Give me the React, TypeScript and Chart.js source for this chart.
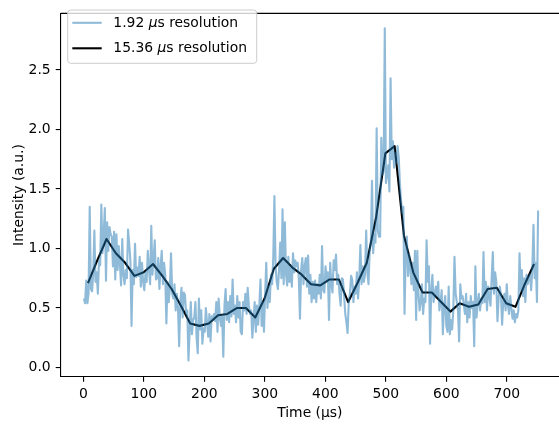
import React, { useEffect, useRef } from 'react';
import { Chart, registerables } from 'chart.js';

Chart.register(...registerables);

// sampling resolutions (µs)
const FINE_RES = 1.92;
const COARSE_RES = 15.36;

// 1.92 µs resolution intensity (a.u.)
const fineIntensity: number[] = [
  0.58, 0.54, 0.73, 0.54, 0.62, 1.35, 0.66, 0.64,
  0.78, 1.15, 0.72, 0.80, 0.62, 0.90, 0.86, 1.37,
  0.96, 1.12, 1.34, 0.73, 1.22, 0.98, 1.18, 1.12,
  1.10, 0.85, 1.14, 0.74, 1.12, 0.82, 1.02, 0.87,
  0.69, 1.08, 0.78, 0.70, 0.82, 0.75, 1.16, 1.04,
  0.90, 0.35, 0.82, 0.70, 1.04, 0.76, 0.84, 0.77,
  0.93, 0.68, 0.88, 0.72, 0.65, 0.80, 0.72, 0.98,
  0.82, 0.70, 1.19, 0.78, 0.92, 1.07, 0.74, 0.75,
  0.92, 0.66, 0.85, 0.98, 0.70, 0.88, 0.78, 0.37,
  0.72, 0.55, 0.66, 0.96, 0.62, 0.58, 0.70, 0.48,
  0.62, 0.50, 0.18, 0.55, 0.67, 0.42, 0.63, 0.61,
  0.45, 0.48, 0.06, 0.30, 0.55, 0.28, 0.40, 0.42,
  0.55, 0.25, 0.12, 0.58, 0.32, 0.48, 0.20, 0.33,
  0.30, 0.50, 0.38, 0.26, 0.45, 0.22, 0.43, 0.40,
  0.45, 0.39, 0.55, 0.30, 0.58, 0.42, 0.35, 0.44,
  0.09, 0.52, 0.66, 0.40, 0.55, 0.38, 0.60, 0.43,
  0.74, 0.45, 0.52, 0.38, 0.60, 0.42, 0.55, 0.30,
  0.28, 0.55, 0.48, 0.62, 0.45, 0.67, 0.52, 0.45,
  0.48, 0.25, 0.40, 0.55, 0.30, 0.52, 0.36, 0.52,
  0.74, 0.35, 0.55, 0.30, 0.62, 0.88, 0.50, 0.68,
  0.55, 0.78, 0.70, 0.92, 1.44, 0.85, 0.72, 0.66,
  0.82, 1.05, 0.75, 1.33, 0.70, 1.22, 0.78, 0.69,
  0.93, 0.72, 0.85, 0.68, 0.96, 0.80, 0.90, 0.85,
  0.88, 0.75, 0.41, 0.82, 0.92, 0.70, 0.85, 0.92,
  0.68, 0.94, 0.62, 0.78, 0.55, 0.72, 0.58, 0.73,
  0.55, 0.70, 0.62, 0.78, 0.58, 1.02, 0.65, 0.63,
  0.85, 0.72, 0.80, 0.40, 0.88, 0.70, 0.63, 0.90,
  0.82, 0.95, 0.70, 0.78, 0.62, 0.52, 0.75, 0.74,
  0.60, 0.45, 0.38, 0.29, 0.55, 0.62, 0.77, 0.74,
  0.55, 0.68, 0.62, 0.80, 0.58, 0.74, 1.03, 0.70,
  0.85, 0.72, 0.78, 1.15, 0.80, 0.70, 0.98, 1.04,
  1.57, 0.96, 1.12, 1.05, 2.01, 1.15, 1.10, 1.10,
  1.93, 1.62, 1.65, 2.85, 1.55, 1.62, 1.70, 1.48,
  2.43, 1.75, 1.90, 1.68, 1.80, 1.72, 1.86, 1.77,
  1.55, 1.40, 1.30, 1.35, 0.45, 0.95, 1.10, 0.77,
  0.95, 0.82, 0.70, 0.88, 0.65, 0.98, 0.40, 0.98,
  0.62, 0.48, 0.55, 0.70, 0.45, 0.58, 0.55, 1.07,
  0.72, 0.85, 0.20, 0.65, 0.78, 0.55, 0.62, 0.68,
  0.60, 0.72, 0.48, 0.55, 0.65, 0.28, 0.52, 0.60,
  0.35, 0.30, 0.68, 0.28, 0.40, 0.32, 0.48, 0.93,
  0.62, 0.55, 0.48, 0.22, 0.70, 0.58, 0.60, 0.53,
  0.45, 0.62, 0.38, 0.55, 0.42, 0.60, 0.50, 0.55,
  0.18, 0.85, 0.42, 0.55, 0.62, 0.48, 0.58, 0.54,
  0.97, 0.55, 0.72, 0.48, 0.68, 0.60, 0.52, 0.75,
  0.97, 0.62, 0.80, 0.72, 0.39, 0.58, 0.68, 0.62,
  0.36, 0.55, 0.62, 0.48, 0.70, 0.52, 0.45, 0.60,
  0.50, 0.41, 0.48, 0.38, 0.45, 0.42, 0.48, 0.96,
  0.65, 0.82, 0.60, 0.75, 0.55, 0.78, 0.70, 0.75,
  0.78, 0.65, 0.82, 1.20, 0.75, 0.88, 0.55, 1.32,
];

// 15.36 µs resolution intensity (a.u.)
const coarseIntensity: number[] = [
  0.71, 0.90, 1.08, 0.96, 0.88, 0.77, 0.80, 0.87, 0.77, 0.66,
  0.52, 0.37, 0.35, 0.37, 0.44, 0.45, 0.50, 0.50, 0.42, 0.58,
  0.83, 0.92, 0.84, 0.78, 0.70, 0.69, 0.74, 0.74, 0.55, 0.71,
  0.88, 1.26, 1.80, 1.86, 1.11, 0.80, 0.63, 0.63, 0.55, 0.47,
  0.54, 0.51, 0.53, 0.66, 0.67, 0.54, 0.51, 0.70, 0.87,
];

const xTicks: number[] = [0, 100, 200, 300, 400, 500, 600, 700];
const yTicks: number[] = [0, 0.5, 1.0, 1.5, 2.0, 2.5];

const seriesLabels: string[] = ['1.92 μs resolution', '15.36 μs resolution'];
const seriesColors: string[] = ['rgba(31,119,180,0.5)', '#000000'];

const xTitle = 'Time (μs)';
const yTitle = 'Intensity (a.u.)';

const FONT = '"DejaVu Sans", sans-serif';
const FS = 13.9;

function drawMixed(ctx: CanvasRenderingContext2D, text: string, x: number, y: number) {
  const parts = text.split('μ');
  let cx = x;
  parts.forEach((p, i) => {
    ctx.font = `${FS}px ${FONT}`;
    ctx.fillText(p, cx, y);
    cx += ctx.measureText(p).width;
    if (i < parts.length - 1) {
      ctx.font = `italic ${FS}px ${FONT}`;
      ctx.fillText('μ', cx, y);
      cx += ctx.measureText('μ').width;
    }
  });
}

const framePlugin = {
  id: 'frameAndLegend',
  afterDraw(chart: any) {
    const { ctx, chartArea } = chart;
    ctx.save();
    // top spine (right spine lies just outside the picture)
    ctx.strokeStyle = '#000';
    ctx.lineWidth = 1.1;
    ctx.beginPath();
    ctx.moveTo(chartArea.left, chartArea.top);
    ctx.lineTo(chartArea.right, chartArea.top);
    ctx.stroke();

    // legend box
    const bx = 67.7, by = 10, bw = 189, bh = 53.3, r = 3;
    ctx.beginPath();
    ctx.moveTo(bx + r, by);
    ctx.lineTo(bx + bw - r, by);
    ctx.quadraticCurveTo(bx + bw, by, bx + bw, by + r);
    ctx.lineTo(bx + bw, by + bh - r);
    ctx.quadraticCurveTo(bx + bw, by + bh, bx + bw - r, by + bh);
    ctx.lineTo(bx + r, by + bh);
    ctx.quadraticCurveTo(bx, by + bh, bx, by + bh - r);
    ctx.lineTo(bx, by + r);
    ctx.quadraticCurveTo(bx, by, bx + r, by);
    ctx.closePath();
    ctx.fillStyle = 'rgba(255,255,255,0.8)';
    ctx.fill();
    ctx.strokeStyle = '#cccccc';
    ctx.lineWidth = 1;
    ctx.stroke();

    const rows = [22.8, 48.3];
    chart.data.datasets.forEach((ds: any, i: number) => {
      const y = rows[i];
      ctx.strokeStyle = ds.borderColor;
      ctx.lineWidth = 2.1;
      ctx.beginPath();
      ctx.moveTo(72.3, y);
      ctx.lineTo(101.7, y);
      ctx.stroke();
      ctx.fillStyle = '#000';
      ctx.textBaseline = 'middle';
      ctx.textAlign = 'left';
      drawMixed(ctx, ds.label, 113.3, y + 0.5);
    });
    ctx.restore();
  },
};

export default function App() {
  const ref = useRef<HTMLCanvasElement | null>(null);

  useEffect(() => {
    document.body.style.margin = '0';
    if (!ref.current) return;
    const fineData = fineIntensity.map((v, i) => ({ x: (i + 0.5) * FINE_RES, y: v }));
    const coarseData = coarseIntensity.map((v, i) => ({ x: (i + 0.5) * COARSE_RES, y: v }));

    const chart = new Chart(ref.current, {
      type: 'line',
      data: {
        datasets: [
          {
            label: seriesLabels[0],
            data: fineData,
            borderColor: seriesColors[0],
            borderWidth: 2.1,
            pointRadius: 0,
            tension: 0,
            borderJoinStyle: 'round',
          },
          {
            label: seriesLabels[1],
            data: coarseData,
            borderColor: seriesColors[1],
            borderWidth: 2.1,
            pointRadius: 0,
            tension: 0,
            borderJoinStyle: 'round',
          },
        ],
      },
      options: {
        animation: false,
        responsive: false,
        maintainAspectRatio: false,
        layout: { padding: { top: 3, right: 0, left: 0, bottom: 0 } },
        plugins: {
          legend: { display: false },
          tooltip: { enabled: false },
        },
        scales: {
          x: {
            type: 'linear',
            min: -37.4,
            max: 786.2,
            afterFit: (s: any) => { s.height = 50.3; },
            afterBuildTicks: (s: any) => { s.ticks = xTicks.map((v) => ({ value: v })); },
            grid: { display: true, drawOnChartArea: false, drawTicks: true, tickLength: 5, color: '#000', lineWidth: 1.1 },
            border: { display: true, color: '#000', width: 1.1 },
            ticks: {
              color: '#000',
              padding: 4,
              maxRotation: 0,
              autoSkip: false,
              font: { family: FONT, size: FS },
              callback: (v: any) => String(v),
            },
            title: {
              display: true,
              text: xTitle,
              color: '#000',
              font: { family: FONT, size: FS },
              padding: { top: 0, bottom: 5 },
            },
          },
          y: {
            type: 'linear',
            min: -0.077,
            max: 2.976,
            afterFit: (s: any) => { s.width = 60.7; },
            afterBuildTicks: (s: any) => { s.ticks = yTicks.map((v) => ({ value: v })); },
            grid: { display: true, drawOnChartArea: false, drawTicks: true, tickLength: 5, color: '#000', lineWidth: 1.1 },
            border: { display: true, color: '#000', width: 1.1 },
            ticks: {
              color: '#000',
              padding: 5,
              autoSkip: false,
              font: { family: FONT, size: FS },
              callback: (v: any) => Number(v).toFixed(1),
            },
            title: {
              display: true,
              text: yTitle,
              color: '#000',
              font: { family: FONT, size: FS },
              padding: { top: 11, bottom: 0 },
            },
          },
        },
      } as any,
      plugins: [framePlugin],
    });
    return () => chart.destroy();
  }, []);

  return (
    <div style={{ width: 559, height: 427, position: 'relative' }}>
      <canvas ref={ref} width={559} height={427} style={{ display: 'block', width: 559, height: 427 }} />
    </div>
  );
}
